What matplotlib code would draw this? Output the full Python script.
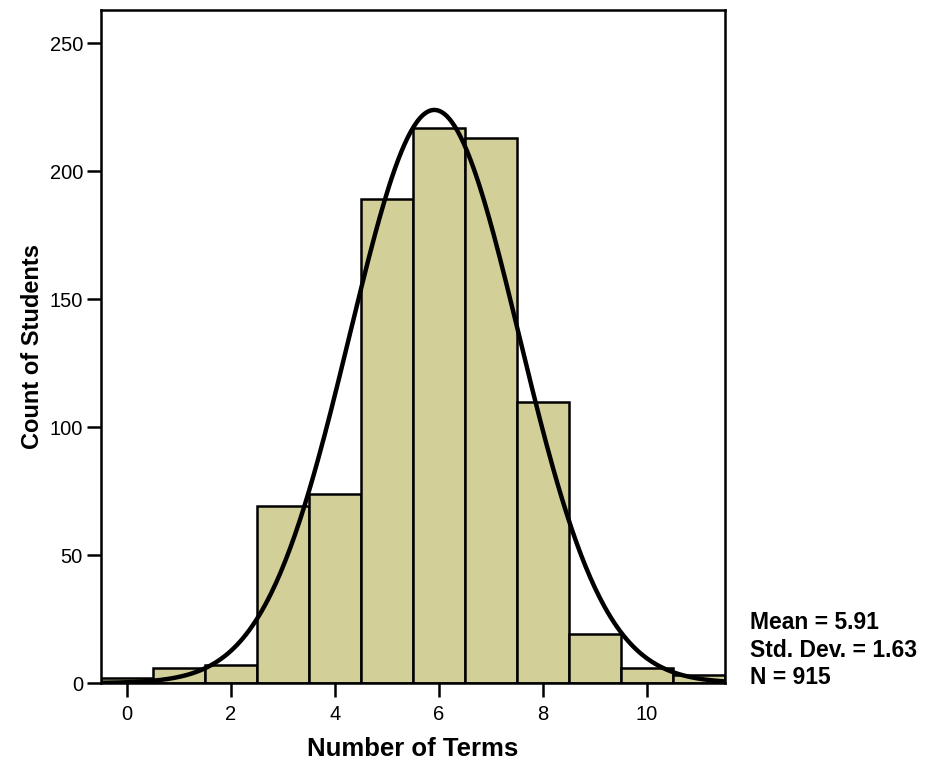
import numpy as np
import matplotlib.pyplot as plt

plt.rcParams['font.family'] = ['Liberation Sans', 'DejaVu Sans']

# Histogram data (bin centers = number of terms)
terms = [0, 1, 2, 3, 4, 5, 6, 7, 8, 9, 10, 11]
counts = [2, 6, 7, 69, 74, 189, 217, 213, 110, 19, 6, 3]

mean = 5.91
std = 1.63
n = 915

fig = plt.figure(figsize=(9.45, 7.69), dpi=100)
ax = fig.add_axes([0.1069, 0.1118, 0.6603, 0.8752])

ax.bar(terms, counts, width=1.0, color='#D3CF98', edgecolor='black',
       linewidth=1.8, zorder=2)

# Normal curve scaled to counts
x = np.linspace(-0.5, 11.5, 400)
y = n * 1.0 / (std * np.sqrt(2 * np.pi)) * np.exp(-0.5 * ((x - mean) / std) ** 2)
ax.plot(x, y, color='black', linewidth=3.2, zorder=3)

ax.set_xlim(-0.5, 11.5)
ax.set_ylim(0, 263)
ax.set_xticks([0, 2, 4, 6, 8, 10])
ax.set_yticks([0, 50, 100, 150, 200, 250])
ax.tick_params(axis='both', labelsize=14.5, length=10, width=1.8, direction='out')
ax.tick_params(axis='x', pad=6)
ax.tick_params(axis='y', pad=3)

for s in ax.spines.values():
    s.set_linewidth(1.8)

ax.set_xlabel('Number of Terms', fontsize=18.5, fontweight='bold', labelpad=9)
ax.set_ylabel('Count of Students', fontsize=17, fontweight='bold', labelpad=4)

stats = 'Mean = %.2f\nStd. Dev. = %.2f\nN = %d' % (mean, std, n)
fig.text(0.7937, 0.1105, stats, fontsize=16.5, fontweight='bold',
         va='baseline', ha='left', linespacing=1.25)

fig.savefig('out.png', dpi=100)
